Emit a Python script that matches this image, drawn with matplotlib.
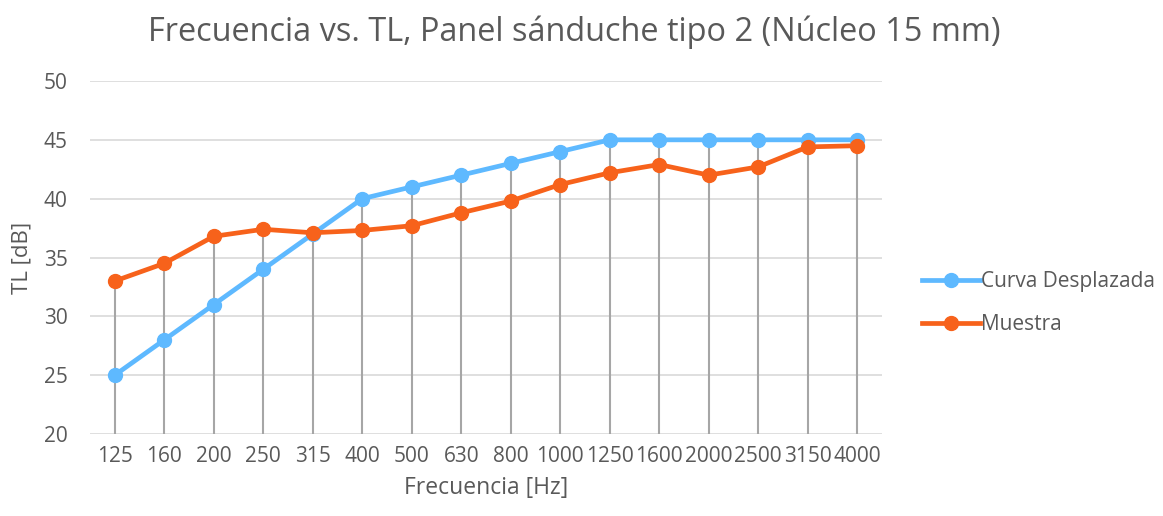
import numpy as np
import matplotlib
matplotlib.use('Agg')
import matplotlib.pyplot as plt

frecuencias = ['125', '160', '200', '250', '315', '400', '500', '630', '800',
               '1000', '1250', '1600', '2000', '2500', '3150', '4000']
curva_desplazada = [25, 28, 31, 34, 37, 40, 41, 42, 43, 44, 45, 45, 45, 45, 45, 45]
muestra = [33.0, 34.5, 36.8, 37.4, 37.1, 37.3, 37.7, 38.8, 39.8, 41.2,
           42.2, 42.9, 42.0, 42.7, 44.4, 44.5]

plt.rcParams['font.family'] = ['Open Sans', 'DejaVu Sans']
TXT = '#595959'

fig = plt.figure(figsize=(11.63, 5.16), dpi=100)
ax = fig.add_axes([90/1163, 1 - 434/516, 792/1163, 353/516])

x = np.arange(len(frecuencias))
# lineas de caida hasta el punto mas alto de cada banda
tope = np.maximum(curva_desplazada, muestra)
ax.vlines(x, 20, tope, color='#A6A6A6', lw=1.5, zorder=2)

ax.plot(x, curva_desplazada, '-o', color='#5EB9FF', lw=3.4, ms=10,
        label='Curva Desplazada', zorder=3)
ax.plot(x, muestra, '-o', color='#F7621B', lw=3.4, ms=10,
        label='Muestra', zorder=4)

ax.set_xlim(-0.5, len(frecuencias) - 0.5)
ax.set_ylim(20, 50)
ax.set_yticks(range(20, 51, 5))
ax.set_xticks(x)
ax.set_xticklabels(frecuencias)
ax.grid(axis='y', color='#D9D9D9', lw=1.2, zorder=0)
ax.set_axisbelow(True)
for s in ax.spines.values():
    s.set_visible(False)
ax.tick_params(length=0, labelsize=15, colors=TXT)
ax.tick_params(axis='x', pad=9)
ax.tick_params(axis='y', pad=16)

ax.set_xlabel('Frecuencia [Hz]', fontsize=16.5, color=TXT, labelpad=6)
ax.set_ylabel('TL [dB]', fontsize=16, color=TXT, labelpad=8)
fig.suptitle('Frecuencia vs. TL, Panel sánduche tipo 2 (Núcleo 15 mm)',
             fontsize=23.4, color=TXT, x=0.494, y=0.97)

ax.legend(loc='center left', bbox_to_anchor=(922/1163, 1 - 303/516), bbox_transform=fig.transFigure,
          frameon=False, fontsize=15, labelcolor=TXT, handlelength=2.8,
          handletextpad=0.05, labelspacing=1.05, borderaxespad=0, borderpad=0)

plt.savefig('out.png', dpi=100)
